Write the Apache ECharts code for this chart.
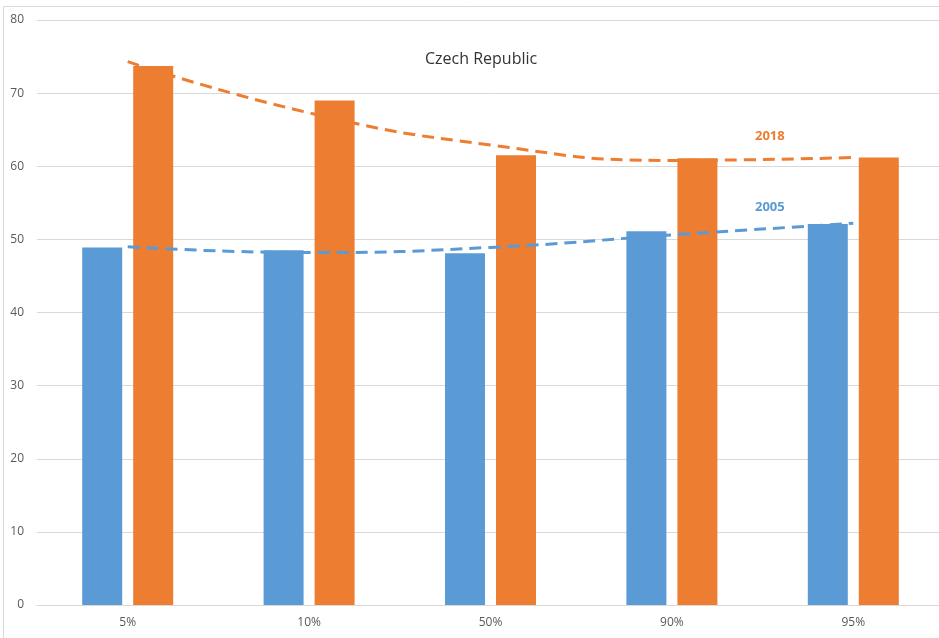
<!DOCTYPE html>
<html>
<head>
<meta charset="utf-8">
<script src="https://cdn.jsdelivr.net/npm/echarts@6/dist/echarts.min.js"></script>
<style>
  html, body { margin: 0; padding: 0; background: #fff; }
  #chart { width: 939px; height: 638px; }
</style>
</head>
<body>
<div id="chart"></div>
<script>
// Percentile groups on the x axis
const categories = ['5%', '10%', '50%', '90%', '95%'];
// Bar values per year
const values2005 = [48.9, 48.5, 48.1, 51.1, 52.1];
const values2018 = [73.7, 69.0, 61.5, 61.1, 61.2];
// Polynomial trend curves per year
const trend2005 = [49.0, 48.2, 48.9, 50.6, 52.2];
const trend2018 = [74.3, 67.3, 62.9, 60.8, 61.2];
// Value axis ticks
const yTicks = [0, 10, 20, 30, 40, 50, 60, 70, 80];

const BLUE = '#5b9bd5';
const ORANGE = '#ed7d31';
const FONT = '"Open Sans", "Liberation Sans", sans-serif';

const chart = echarts.init(document.getElementById('chart'), null, { renderer: 'canvas' });

chart.setOption({
  backgroundColor: '#ffffff',
  animation: false,
  graphic: [
    {
      type: 'rect',
      left: 1, top: 4,
      shape: { width: 960, height: 660 },
      style: { fill: 'none', stroke: '#d9d9d9', lineWidth: 1 },
      silent: true, z: -1
    },
    {
      type: 'text', left: 425, top: 51,
      style: { text: 'Czech Republic', fill: '#333333', font: '16px ' + FONT }
    },
    {
      type: 'text', left: 755, top: 130,
      style: { text: '2018', fill: ORANGE, font: 'bold 13px ' + FONT }
    },
    {
      type: 'text', left: 755, top: 201,
      style: { text: '2005', fill: BLUE, font: 'bold 13px ' + FONT }
    }
  ],
  grid: {
    left: 37, top: 20, width: 907, height: 585,
    containLabel: false, outerBoundsMode: 'none'
  },
  xAxis: {
    type: 'category',
    data: categories,
    boundaryGap: true,
    axisLine: { show: true, lineStyle: { color: '#d9d9d9', width: 1 } },
    axisTick: { show: false },
    axisLabel: { color: '#595959', fontFamily: FONT, fontSize: 12, margin: 12 }
  },
  yAxis: {
    type: 'value',
    min: yTicks[0],
    max: yTicks[yTicks.length - 1],
    interval: yTicks[1] - yTicks[0],
    axisLine: { show: false },
    axisTick: { show: false },
    splitLine: { lineStyle: { color: '#d9d9d9', width: 1 } },
    axisLabel: { color: '#595959', fontFamily: FONT, fontSize: 12, margin: 13 }
  },
  series: [
    {
      name: '2005', type: 'bar', data: values2005,
      barWidth: 40, barGap: '27.5%',
      itemStyle: { color: BLUE }, z: 2
    },
    {
      name: '2018', type: 'bar', data: values2018,
      barWidth: 40, barGap: '27.5%',
      itemStyle: { color: ORANGE }, z: 2
    },
    {
      name: '2005 trend', type: 'line', data: trend2005,
      smooth: 0.5, symbol: 'none',
      lineStyle: { color: BLUE, width: 3, type: [12, 7] }, z: 5
    },
    {
      name: '2018 trend', type: 'line', data: trend2018,
      smooth: 0.5, symbol: 'none',
      lineStyle: { color: ORANGE, width: 3, type: [12, 7] }, z: 5
    }
  ]
});
</script>
</body>
</html>
